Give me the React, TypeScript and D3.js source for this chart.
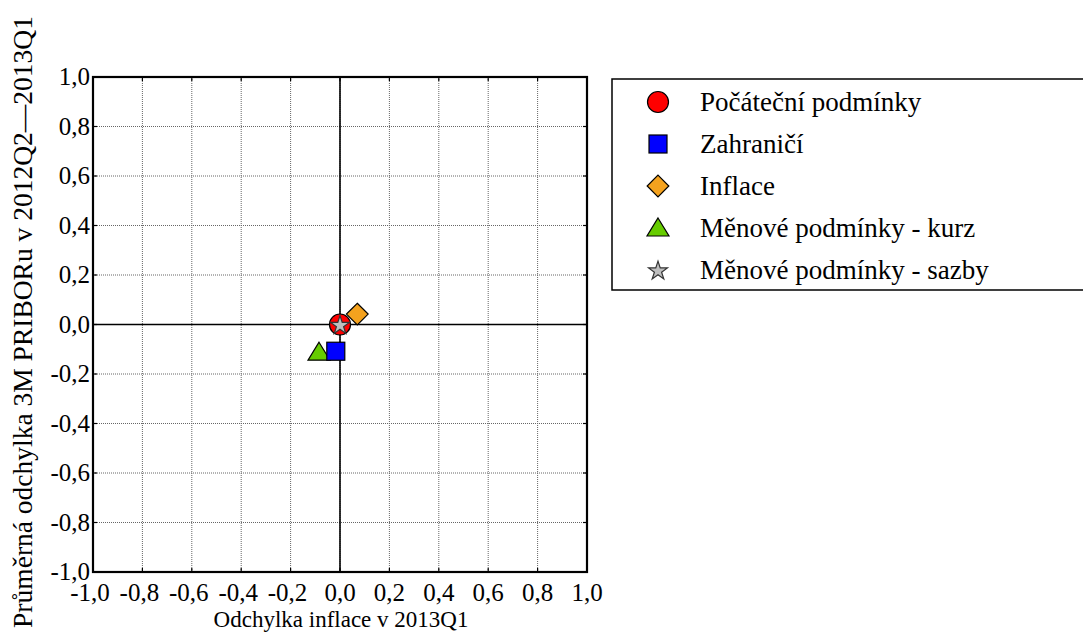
import * as d3 from 'd3'

const seriesNames = [
  'Počáteční podmínky',
  'Zahraničí',
  'Inflace',
  'Měnové podmínky - kurz',
  'Měnové podmínky - sazby',
]
const seriesX = [0.0, -0.017, 0.07, -0.085, 0.0]
const seriesY = [0.0, -0.108, 0.042, -0.112, 0.0]
const seriesColors = ['#FF0000', '#0000FF', '#F4A21E', '#66CC00', '#BEBEBE']
const seriesShapes = ['circle', 'square', 'diamond', 'triangle', 'star']
// draw order so the overlaps look like the original
const drawOrder = [3, 1, 2, 0, 4]

const tickValues = [-1, -0.8, -0.6, -0.4, -0.2, 0, 0.2, 0.4, 0.6, 0.8, 1]
const xTitle = 'Odchylka inflace v 2013Q1'
const yTitle = 'Průměrná odchylka 3M PRIBORu v 2012Q2—2013Q1'

const W = 1083
const H = 634
const plot = { left: 93, top: 77, right: 587, bottom: 572 }
const SERIF = 'Liberation Serif'

const fmt = (v: number) => d3.format('.1f')(v).replace('.', ',').replace('−', '-')

function Marker({ shape, color, x, y }: { shape: string; color: string; x: number; y: number }) {
  const st = { fill: color, stroke: shape === 'star' ? '#333' : '#000', strokeWidth: 1.2 }
  if (shape === 'circle') return <circle cx={x} cy={y} r={10.5} {...st} />
  if (shape === 'square') return <rect x={x - 9} y={y - 9} width={18} height={18} {...st} />
  if (shape === 'diamond')
    return <path d={d3.symbol(d3.symbolDiamond2, 300)()!} transform={`translate(${x},${y})`} {...st} />
  if (shape === 'triangle') {
    const p = `M${x},${y - 10}L${x + 11},${y + 8}L${x - 11},${y + 8}Z`
    return <path d={p} {...st} />
  }
  return <path d={d3.symbol(d3.symbolStar, 110)()!} transform={`translate(${x},${y + 1})`} {...st} />
}

export default function App() {
  const x = d3.scaleLinear().domain([-1, 1]).range([plot.left, plot.right])
  const y = d3.scaleLinear().domain([-1, 1]).range([plot.bottom, plot.top])

  return (
    <svg width={W} height={H} style={{ position: 'absolute', left: 0, top: 0, background: '#fff' }}>
      {/* grid */}
      {tickValues.map((t) => (
        <g key={'g' + t}>
          <line x1={x(t)} x2={x(t)} y1={plot.top} y2={plot.bottom} stroke="#666" strokeWidth={1} strokeDasharray="1,1" />
          <line y1={y(t)} y2={y(t)} x1={plot.left} x2={plot.right} stroke="#666" strokeWidth={1} strokeDasharray="1,1" />
          <line x1={x(t)} x2={x(t)} y1={plot.bottom} y2={plot.bottom - 4} stroke="#000" strokeWidth={1.2} />
          <line x1={x(t)} x2={x(t)} y1={plot.top} y2={plot.top + 4} stroke="#000" strokeWidth={1.2} />
          <line y1={y(t)} y2={y(t)} x1={plot.left} x2={plot.left + 4} stroke="#000" strokeWidth={1.2} />
          <line y1={y(t)} y2={y(t)} x1={plot.right} x2={plot.right - 4} stroke="#000" strokeWidth={1.2} />
        </g>
      ))}
      {/* zero lines */}
      <line x1={x(0)} x2={x(0)} y1={plot.top} y2={plot.bottom} stroke="#000" strokeWidth={1.6} />
      <line y1={y(0)} y2={y(0)} x1={plot.left} x2={plot.right} stroke="#000" strokeWidth={1.6} />
      <rect x={plot.left} y={plot.top} width={plot.right - plot.left} height={plot.bottom - plot.top} fill="none" stroke="#000" strokeWidth={2.2} />

      {/* tick labels */}
      {tickValues.map((t) => (
        <text key={'yl' + t} x={plot.left - 3} y={y(t) + 8} textAnchor="end" fontSize={25} fontFamily={SERIF}>
          {fmt(t)}
        </text>
      ))}
      {tickValues.map((t) => (
        <text key={'xl' + t} x={x(t) - (t < 0 ? 3 : 0)} y={601} textAnchor="middle" fontSize={25} fontFamily={SERIF}>
          {fmt(t)}
        </text>
      ))}

      {/* titles */}
      <text x={341} y={627} textAnchor="middle" fontSize={23} fontFamily={SERIF}>
        {xTitle}
      </text>
      <text transform="translate(32,322) rotate(-90)" textAnchor="middle" fontSize={27.5} fontFamily={SERIF}>
        {yTitle}
      </text>

      {/* points */}
      {drawOrder.map((i) => (
        <Marker key={'m' + i} shape={seriesShapes[i]} color={seriesColors[i]} x={x(seriesX[i])} y={y(seriesY[i])} />
      ))}

      {/* legend, its right edge runs off the picture */}
      <path d="M1083,79H612V290H1083" fill="#fff" stroke="#000" strokeWidth={1.5} />
      {seriesNames.map((name, i) => (
        <g key={'lg' + i}>
          <Marker shape={seriesShapes[i]} color={seriesColors[i]} x={658} y={102 + i * 42} />
          <text x={700} y={111 + i * 42} fontSize={27} fontFamily={SERIF}>
            {name}
          </text>
        </g>
      ))}
    </svg>
  )
}
